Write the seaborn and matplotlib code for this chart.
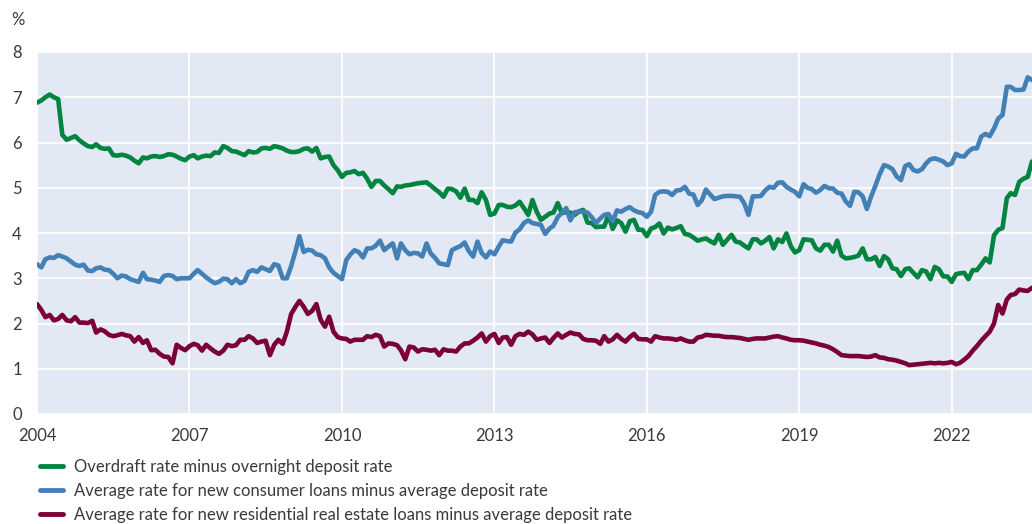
import numpy as np
import pandas as pd
import matplotlib
matplotlib.use("Agg")
import matplotlib.pyplot as plt
import matplotlib.dates as mdates
from matplotlib.lines import Line2D
import seaborn as sns

# ---------------- data (monthly, Jan 2004 - Aug 2023) ----------------
overdraft = [
    6.88, 6.93, 7.00, 7.06, 7.00, 6.96, 6.17, 6.06, 6.10, 6.14, 6.05, 5.98,  # 2004
    5.92, 5.90, 5.96, 5.88, 5.86, 5.87, 5.72, 5.71, 5.73, 5.71, 5.67, 5.60,  # 2005
    5.54, 5.67, 5.65, 5.69, 5.70, 5.68, 5.70, 5.74, 5.73, 5.69, 5.64, 5.61,  # 2006
    5.69, 5.72, 5.65, 5.69, 5.71, 5.70, 5.78, 5.77, 5.92, 5.88, 5.81, 5.80,  # 2007
    5.76, 5.72, 5.81, 5.78, 5.79, 5.87, 5.88, 5.86, 5.92, 5.90, 5.87, 5.82,  # 2008
    5.79, 5.79, 5.81, 5.86, 5.87, 5.80, 5.88, 5.65, 5.68, 5.69, 5.50, 5.39,  # 2009
    5.24, 5.33, 5.34, 5.37, 5.30, 5.33, 5.20, 5.02, 5.15, 5.15, 5.05, 4.97,  # 2010
    4.88, 5.03, 5.02, 5.05, 5.06, 5.08, 5.10, 5.11, 5.12, 5.05, 4.97, 4.90,  # 2011
    4.80, 4.98, 4.97, 4.92, 4.78, 4.98, 4.73, 4.73, 4.66, 4.90, 4.73, 4.40,  # 2012
    4.43, 4.62, 4.62, 4.58, 4.57, 4.61, 4.69, 4.55, 4.40, 4.73, 4.47, 4.29,  # 2013
    4.36, 4.43, 4.45, 4.66, 4.44, 4.46, 4.45, 4.40, 4.48, 4.51, 4.23, 4.22,  # 2014
    4.13, 4.14, 4.14, 4.40, 4.09, 4.28, 4.22, 4.03, 4.26, 4.29, 4.07, 4.07,  # 2015
    3.93, 4.10, 4.13, 4.21, 3.99, 4.12, 4.08, 4.11, 4.15, 3.98, 3.96, 3.90,  # 2016
    3.83, 3.86, 3.88, 3.82, 3.77, 3.96, 3.74, 3.85, 3.96, 3.81, 3.79, 3.72,  # 2017
    3.66, 3.86, 3.86, 3.77, 3.83, 3.91, 3.66, 3.86, 3.80, 3.99, 3.71, 3.57,  # 2018
    3.62, 3.86, 3.85, 3.84, 3.66, 3.61, 3.74, 3.74, 3.59, 3.83, 3.50, 3.44,  # 2019
    3.45, 3.47, 3.50, 3.66, 3.42, 3.42, 3.47, 3.27, 3.49, 3.42, 3.22, 3.20,  # 2020
    3.05, 3.20, 3.22, 3.12, 3.02, 3.18, 3.15, 2.98, 3.25, 3.20, 3.04, 3.04,  # 2021
    2.92, 3.09, 3.11, 3.12, 2.98, 3.18, 3.18, 3.30, 3.44, 3.35, 3.95, 4.07,  # 2022
    4.11, 4.77, 4.88, 4.84, 5.13, 5.20, 5.24, 5.58,                          # 2023
]

consumer = [
    3.31, 3.24, 3.42, 3.46, 3.45, 3.51, 3.48, 3.44, 3.37, 3.30, 3.27, 3.30,  # 2004
    3.17, 3.16, 3.22, 3.24, 3.19, 3.18, 3.10, 3.00, 3.06, 3.04, 2.98, 2.95,  # 2005
    2.92, 3.12, 2.98, 2.97, 2.95, 2.92, 3.05, 3.07, 3.05, 2.98, 3.00, 3.00,  # 2006
    3.00, 3.10, 3.18, 3.10, 3.02, 2.95, 2.89, 2.92, 2.99, 2.98, 2.89, 2.98,  # 2007
    2.89, 2.94, 3.14, 3.18, 3.14, 3.24, 3.20, 3.16, 3.31, 3.28, 3.00, 3.00,  # 2008
    3.27, 3.60, 3.93, 3.58, 3.63, 3.61, 3.53, 3.51, 3.44, 3.24, 3.12, 3.05,  # 2009
    2.98, 3.40, 3.52, 3.62, 3.58, 3.46, 3.66, 3.66, 3.72, 3.83, 3.62, 3.70,  # 2010
    3.77, 3.44, 3.77, 3.62, 3.53, 3.56, 3.55, 3.48, 3.77, 3.55, 3.45, 3.33,  # 2011
    3.31, 3.29, 3.62, 3.67, 3.71, 3.79, 3.60, 3.48, 3.81, 3.56, 3.46, 3.59,  # 2012
    3.53, 3.70, 3.84, 3.82, 3.81, 4.01, 4.08, 4.22, 4.28, 4.22, 4.20, 4.18,  # 2013
    3.98, 4.10, 4.16, 4.35, 4.45, 4.55, 4.28, 4.46, 4.47, 4.47, 4.45, 4.35,  # 2014
    4.22, 4.32, 4.40, 4.42, 4.26, 4.50, 4.47, 4.53, 4.57, 4.50, 4.46, 4.44,  # 2015
    4.36, 4.47, 4.84, 4.91, 4.92, 4.91, 4.84, 4.94, 4.95, 5.02, 4.87, 4.85,  # 2016
    4.62, 4.73, 4.96, 4.85, 4.75, 4.78, 4.81, 4.82, 4.82, 4.81, 4.80, 4.66,  # 2017
    4.40, 4.81, 4.81, 4.82, 4.94, 5.02, 5.00, 5.11, 5.12, 5.02, 4.96, 4.91,  # 2018
    4.81, 5.08, 5.00, 4.97, 4.89, 4.95, 5.04, 4.99, 4.98, 4.89, 4.87, 4.70,  # 2019
    4.60, 4.91, 4.90, 4.81, 4.53, 4.81, 5.04, 5.30, 5.50, 5.47, 5.41, 5.25,  # 2020
    5.17, 5.48, 5.52, 5.39, 5.36, 5.41, 5.54, 5.63, 5.65, 5.62, 5.58, 5.50,  # 2021
    5.54, 5.75, 5.70, 5.69, 5.80, 5.87, 5.87, 6.13, 6.19, 6.14, 6.31, 6.53,  # 2022
    6.61, 7.23, 7.23, 7.16, 7.16, 7.17, 7.44, 7.38,                          # 2023
]

residential = [
    2.43, 2.30, 2.14, 2.19, 2.07, 2.10, 2.19, 2.07, 2.05, 2.14, 2.02, 2.02,  # 2004
    2.01, 2.06, 1.80, 1.87, 1.83, 1.75, 1.72, 1.74, 1.77, 1.74, 1.72, 1.60,  # 2005
    1.70, 1.57, 1.63, 1.41, 1.42, 1.33, 1.27, 1.26, 1.12, 1.53, 1.46, 1.41,  # 2006
    1.50, 1.55, 1.52, 1.40, 1.53, 1.45, 1.38, 1.33, 1.40, 1.53, 1.50, 1.52,  # 2007
    1.64, 1.64, 1.72, 1.67, 1.57, 1.60, 1.62, 1.30, 1.53, 1.64, 1.55, 1.82,  # 2008
    2.21, 2.37, 2.50, 2.37, 2.21, 2.28, 2.43, 2.08, 1.93, 2.15, 1.82, 1.70,  # 2009
    1.67, 1.66, 1.60, 1.64, 1.64, 1.64, 1.72, 1.70, 1.75, 1.72, 1.49, 1.56,  # 2010
    1.55, 1.52, 1.41, 1.21, 1.49, 1.47, 1.38, 1.43, 1.42, 1.40, 1.42, 1.30,  # 2011
    1.43, 1.40, 1.40, 1.38, 1.49, 1.56, 1.56, 1.62, 1.69, 1.78, 1.60, 1.72,  # 2012
    1.77, 1.57, 1.69, 1.70, 1.53, 1.72, 1.77, 1.75, 1.82, 1.76, 1.64, 1.67,  # 2013
    1.69, 1.57, 1.68, 1.78, 1.69, 1.75, 1.80, 1.77, 1.76, 1.66, 1.63, 1.63,  # 2014
    1.62, 1.55, 1.72, 1.60, 1.65, 1.75, 1.66, 1.60, 1.70, 1.77, 1.66, 1.65,  # 2015
    1.65, 1.60, 1.72, 1.69, 1.67, 1.67, 1.66, 1.64, 1.67, 1.63, 1.60, 1.60,  # 2016
    1.69, 1.71, 1.75, 1.74, 1.73, 1.73, 1.71, 1.70, 1.70, 1.69, 1.68, 1.66,  # 2017
    1.64, 1.66, 1.67, 1.67, 1.67, 1.69, 1.71, 1.72, 1.69, 1.67, 1.64, 1.63,  # 2018
    1.63, 1.62, 1.60, 1.58, 1.56, 1.53, 1.51, 1.48, 1.43, 1.37, 1.30, 1.29,  # 2019
    1.28, 1.28, 1.28, 1.27, 1.26, 1.27, 1.30, 1.25, 1.24, 1.21, 1.20, 1.18,  # 2020
    1.15, 1.12, 1.08, 1.09, 1.10, 1.11, 1.12, 1.13, 1.12, 1.13, 1.12, 1.13,  # 2021
    1.15, 1.10, 1.13, 1.20, 1.28, 1.40, 1.50, 1.62, 1.72, 1.82, 2.00, 2.41,  # 2022
    2.22, 2.53, 2.63, 2.65, 2.75, 2.73, 2.72, 2.79,                          # 2023
]

series_labels = [
    "Overdraft rate minus overnight deposit rate",
    "Average rate for new consumer loans minus average deposit rate",
    "Average rate for new residential real estate loans minus average deposit rate",
]
series_colors = ["#00843f", "#4380b6", "#7b0035"]
year_ticks = [2004, 2007, 2010, 2013, 2016, 2019, 2022]
y_ticks = [0, 1, 2, 3, 4, 5, 6, 7, 8]

# ---------------- build long table ----------------
dates = pd.date_range("2004-01-01", periods=len(overdraft), freq="MS")
df = pd.DataFrame({
    "date": np.concatenate([dates, dates, dates]),
    "value": overdraft + consumer + residential,
    "series": np.repeat(series_labels, len(dates)),
})

sns.set_theme(style="darkgrid")
plt.rcParams["font.family"] = ["Lato", "DejaVu Sans"]

W, H = 1032, 524
fig = plt.figure(figsize=(W / 100, H / 100), dpi=100)
ax = fig.add_axes([37 / W, 1 - 414 / H, 1 - 37 / W, (414 - 52) / H])
ax.set_facecolor("#e2e8f4")

sns.lineplot(data=df, x="date", y="value", hue="series",
             palette=dict(zip(series_labels, series_colors)),
             hue_order=series_labels, linewidth=3.3, ax=ax, legend=False)

ax.set_xlim(dates[0], dates[-1])
ax.set_ylim(0, 8)
ax.set_yticks(y_ticks)
ax.set_xticks([pd.Timestamp(f"{y}-01-01") for y in year_ticks])
ax.xaxis.set_major_formatter(mdates.DateFormatter("%Y"))
ax.grid(True, color="white", linewidth=1.3)
for s in ax.spines.values():
    s.set_visible(False)
ax.tick_params(axis="both", length=0, labelsize=12, colors="#3a3a3a")
ax.tick_params(axis="y", pad=11)
ax.tick_params(axis="x", pad=10)
ax.set_xlabel("")
ax.set_ylabel("")

fig.text(18 / W, 1 - 20 / H, "%", ha="center", va="center", fontsize=12, color="#3a3a3a")

handles = [Line2D([0], [0], color=c, linewidth=3.5) for c in series_colors]
fig.legend(handles, series_labels, loc="upper left",
           bbox_to_anchor=(40 / W, 1 - 459 / H), frameon=False,
           fontsize=12, handlelength=1.35, handletextpad=0.68,
           labelspacing=0.47, borderaxespad=0, borderpad=0,
           labelcolor="#3a3a3a")

fig.savefig("out.png", dpi=100)
